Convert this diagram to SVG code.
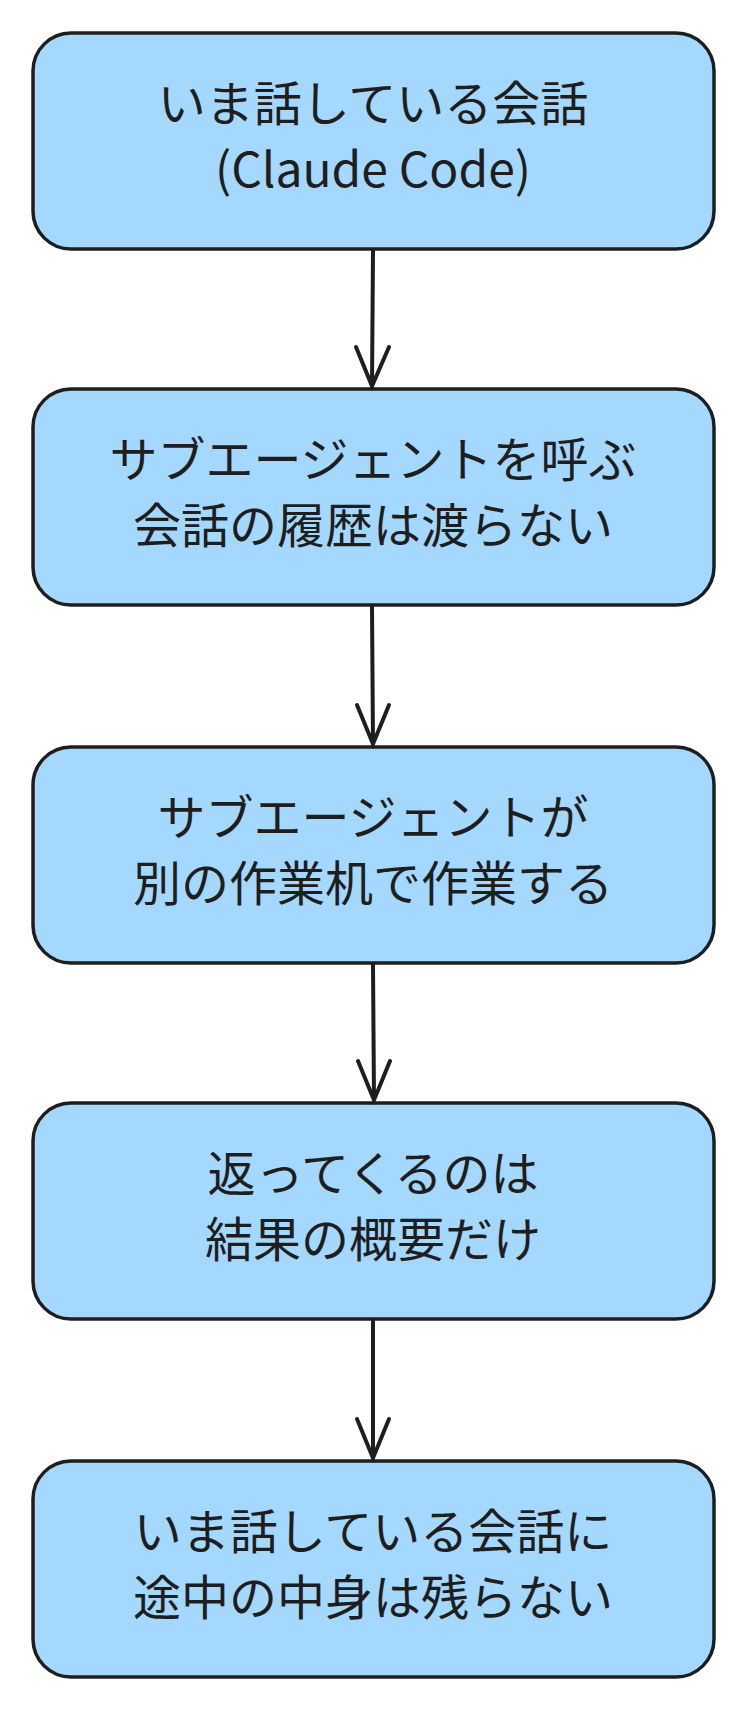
<svg xmlns="http://www.w3.org/2000/svg" width="748" height="1714" viewBox="0 0 748 1714">
<style>
.box{fill:#a5d8ff;stroke:#1e1e1e;stroke-width:3.5}
.t{font-family:"Noto Sans CJK JP","Noto Sans",sans-serif;font-size:48px;fill:#1e1e1e;text-anchor:middle}
.c{fill:none;stroke:#1e1e1e;stroke-width:4;stroke-linecap:round}
</style>
<rect width="748" height="1714" fill="#fff"/>
<g id="n1"><rect class="box" x="33" y="33" width="681" height="216" rx="38"/><text class="t" x="373" y="121">いま話している会話</text><text class="t" x="373" y="187">(Claude Code)</text></g>
<g id="n2"><rect class="box" x="33" y="389" width="681" height="216" rx="38"/><text class="t" x="373" y="477">サブエージェントを呼ぶ</text><text class="t" x="373" y="543">会話の履歴は渡らない</text></g>
<g id="n3"><rect class="box" x="33" y="747" width="681" height="216" rx="38"/><text class="t" x="373" y="835">サブエージェントが</text><text class="t" x="373" y="901">別の作業机で作業する</text></g>
<g id="n4"><rect class="box" x="33" y="1103" width="681" height="216" rx="38"/><text class="t" x="373" y="1191">返ってくるのは</text><text class="t" x="373" y="1257">結果の概要だけ</text></g>
<g id="n5"><rect class="box" x="33" y="1461" width="681" height="216" rx="38"/><text class="t" x="373" y="1549">いま話している会話に</text><text class="t" x="373" y="1615">途中の中身は残らない</text></g>
<g id="connectors">
<path class="c" d="M373 251 L372 386 M356 347 L372 386 L389 347"/>
<path class="c" d="M372 607 L373 744 M357 705 L373 744 L389 705"/>
<path class="c" d="M373 965 L374 1100 M358 1061 L374 1100 L390 1061"/>
<path class="c" d="M373 1321 L373 1458 M357 1419 L373 1458 L389 1419"/>
</g>
</svg>
